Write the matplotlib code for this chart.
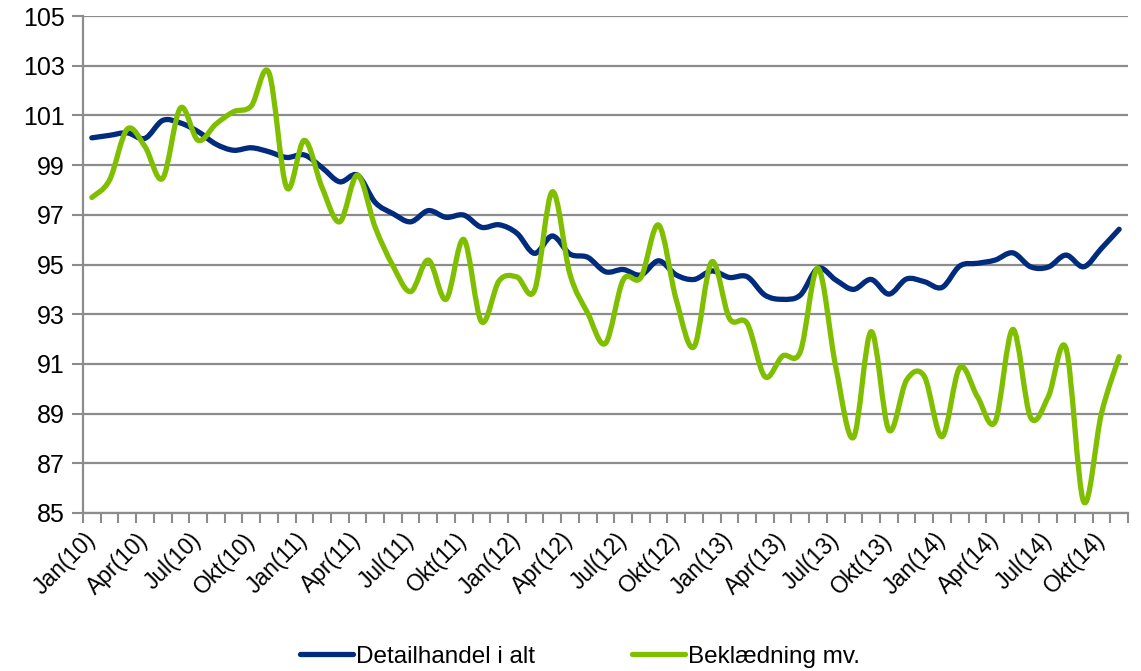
import numpy as np
import matplotlib.pyplot as plt
from matplotlib.path import Path
from matplotlib.patches import PathPatch
from matplotlib.lines import Line2D
from matplotlib.ticker import FixedLocator

plt.rcParams['font.family'] = ['Liberation Sans', 'DejaVu Sans']

# months Jan 2010 .. Nov 2014
month_names = ['Jan', 'Feb', 'Mar', 'Apr', 'Maj', 'Jun', 'Jul', 'Aug', 'Sep', 'Okt', 'Nov', 'Dec']
years = ['10', '11', '12', '13', '14']
categories = [f'{m}({y})' for y in years for m in month_names][:59]

detail = [100.1, 100.2, 100.3, 100.08, 100.8, 100.7, 100.35, 99.85, 99.6, 99.7,
          99.54, 99.31, 99.41, 98.9, 98.33, 98.6, 97.5, 97.05, 96.72, 97.17,
          96.9, 96.99, 96.5, 96.6, 96.26, 95.45, 96.15, 95.42, 95.29, 94.71,
          94.8, 94.58, 95.15, 94.58, 94.4, 94.74, 94.48, 94.51, 93.77, 93.6,
          93.77, 94.85, 94.38, 94.0, 94.4, 93.81, 94.42, 94.31, 94.08, 94.94,
          95.05, 95.18, 95.47, 94.91, 94.9, 95.38, 94.91, 95.65, 96.42]

beklaedning = [97.7, 98.4, 100.45, 99.75, 98.47, 101.3, 100.0, 100.65, 101.15, 101.38,
               102.72, 98.1, 100.0, 98.1, 96.72, 98.6, 96.5, 94.95, 93.91, 95.18,
               93.6, 96.01, 92.7, 94.35, 94.5, 93.97, 97.93, 94.6, 93.04, 91.83,
               94.38, 94.48, 96.59, 93.57, 91.69, 95.11, 92.83, 92.63, 90.49, 91.32,
               91.49, 94.85, 90.89, 88.04, 92.3, 88.34, 90.35, 90.5, 88.07, 90.85,
               89.68, 88.67, 92.39, 88.85, 89.68, 91.63, 85.45, 89.0, 91.29]

series_names = ['Detailhandel i alt', 'Beklædning mv.']
BLUE = '#012B7D'
GREEN = '#7FBF00'
GRID = '#8C8C8C'


def smooth_path(x, y):
    # Excel-style smoothed line: cubic bezier through every point
    n = len(x)
    verts = [(x[0], y[0])]
    codes = [Path.MOVETO]
    for i in range(n - 1):
        a = max(i - 1, 0)
        b = min(i + 2, n - 1)
        c1 = (x[i] + (x[i + 1] - x[a]) / 6, y[i] + (y[i + 1] - y[a]) / 6)
        c2 = (x[i + 1] - (x[b] - x[i]) / 6, y[i + 1] - (y[b] - y[i]) / 6)
        verts += [c1, c2, (x[i + 1], y[i + 1])]
        codes += [Path.CURVE4] * 3
    return Path(verts, codes)


fig = plt.figure(figsize=(11.41, 6.71), dpi=100)
ax = fig.add_axes([0.0727, 0.2355, 0.9159, 0.7405])

x = np.arange(len(categories))
for vals, col in [(detail, BLUE), (beklaedning, GREEN)]:
    ax.add_patch(PathPatch(smooth_path(x, np.array(vals)), fill=False, edgecolor=col,
                           lw=3.8, capstyle='round', joinstyle='round', zorder=3))

ax.set_xlim(-0.5, len(categories) - 0.5)
ax.set_ylim(85, 105)
ax.set_yticks(np.arange(85, 106, 2))
ax.yaxis.grid(True, color=GRID, lw=1.6)
ax.set_axisbelow(True)

ax.set_xticks(x[::3])
ax.set_xticklabels(categories[::3], rotation=45, ha='right', va='center',
                   rotation_mode='anchor', fontsize=16.5)
ax.xaxis.set_minor_locator(FixedLocator(np.arange(-0.5, len(categories), 1)))
ax.tick_params(axis='x', which='major', length=0, pad=17)
ax.tick_params(axis='x', which='minor', length=7, width=1.5, color=GRID)
ax.tick_params(axis='y', length=8, width=1.5, color=GRID, labelsize=18, pad=5)

for s in ['top', 'right']:
    ax.spines[s].set_visible(False)
for s in ['left', 'bottom']:
    ax.spines[s].set_color(GRID)
    ax.spines[s].set_linewidth(1.6)

handles = [Line2D([], [], color=BLUE, lw=3.8, solid_capstyle='round'),
           Line2D([], [], color=GREEN, lw=3.8, solid_capstyle='round')]
fig.legend(handles, series_names, loc='center', bbox_to_anchor=(0.508, 0.021), ncol=2,
           frameon=False, fontsize=17.5, handlelength=2.2, handletextpad=0.1,
           columnspacing=4.0)

fig.savefig('out.png', dpi=100)
